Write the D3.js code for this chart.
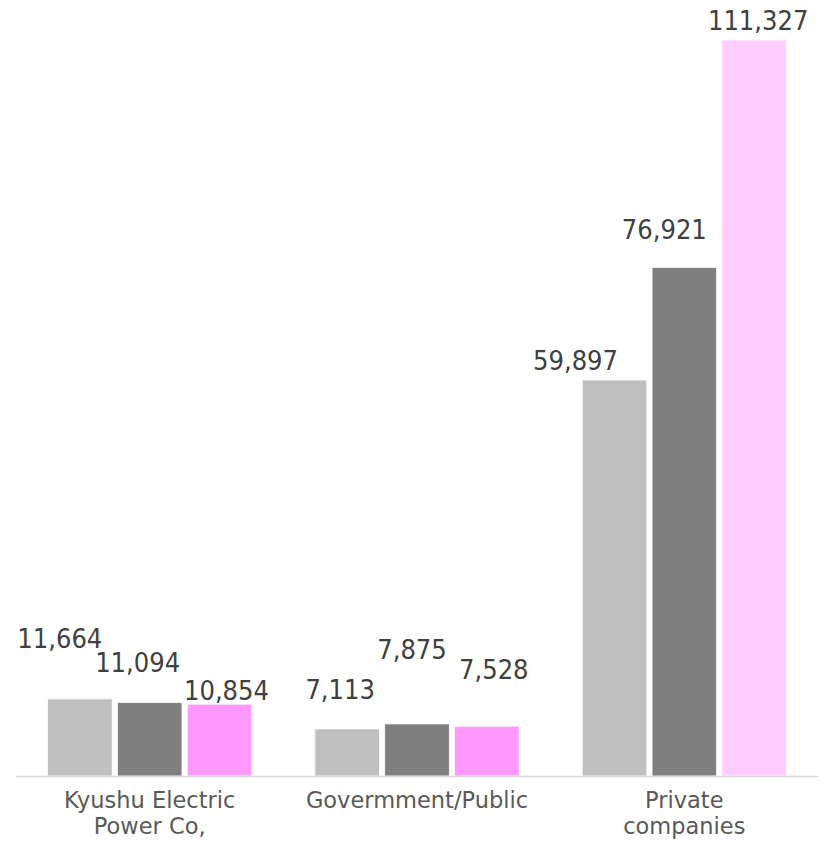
<!DOCTYPE html>
<html><head><meta charset="utf-8">
<script src="https://cdn.jsdelivr.net/npm/d3@7"></script>
<style>html,body{margin:0;padding:0;background:#fff;}svg{display:block;}</style>
</head><body>
<svg id="c" width="831" height="841"></svg>
<script>
const categories = [["Kyushu Electric","Power Co,"],["Govermment/Public"],["Private","companies"]];
const seriesNames = ["A","B","C"];
const seriesA = [11664, 7113, 59897];
const seriesB = [11094, 7875, 76921];
const seriesC = [10854, 7528, 111327];
const colors = [["#bfbfbf","#bfbfbf","#bfbfbf"],["#7f7f7f","#7f7f7f","#7f7f7f"],["#ff99ff","#ff99ff","#ffccff"]];
// manual label offsets (dx, dy from bar top-center), like moved Excel data labels
const labelDx = [[-20,-12,7],[-7,-5,7],[-39,-20,4]];
const labelDy = [[-51,-31,-4],[-30,-65,-47],[-10,-28,-10]];

const series = [seriesA, seriesB, seriesC];
const svg = d3.select("#c");
const plotLeft = 16, plotRight = 818, plotBase = 776, plotTop = 40;
const x0 = d3.scaleBand().domain(d3.range(categories.length)).range([plotLeft, plotRight]).paddingInner(0.236).paddingOuter(0.118);
const x1 = d3.scaleBand().domain(d3.range(series.length)).range([0, x0.bandwidth()]).paddingInner(0.075);
const y = d3.scaleLinear().domain([0, 111327]).range([plotBase, plotTop]);
const fmt = d3.format(",");

const g = svg.append("g");
series.forEach((vals, si) => {
  g.selectAll(".b"+si).data(vals).enter().append("rect")
    .attr("x", (d,i) => x0(i) + x1(si))
    .attr("y", d => y(d))
    .attr("width", x1.bandwidth())
    .attr("height", d => plotBase - y(d))
    .attr("fill", (d,i) => colors[si][i])
    .attr("stroke", "#ffffff").attr("stroke-width", 0.75);
});
svg.append("line").attr("x1", plotLeft).attr("x2", plotRight).attr("y1", plotBase+0.5).attr("y2", plotBase+0.5)
  .attr("stroke", "#d9d9d9").attr("stroke-width", 1.5);

series.forEach((vals, si) => {
  svg.selectAll(".l"+si).data(vals).enter().append("text")
    .attr("x", (d,i) => x0(i) + x1(si) + x1.bandwidth()/2 + labelDx[i][si])
    .attr("y", (d,i) => y(d) + labelDy[i][si])
    .attr("text-anchor", "middle")
    .attr("font-family", "'DejaVu Sans Condensed','DejaVu Sans',sans-serif")
    .attr("font-stretch", "condensed")
    .attr("font-size", 27)
    .attr("fill", "#404040")
    .text(d => fmt(d));
});

categories.forEach((lines, i) => {
  lines.forEach((ln, k) => {
    svg.append("text")
      .attr("text-anchor", "middle")
      .attr("font-family", "'DejaVu Sans',sans-serif")
      .attr("font-size", 22.5)
      .attr("fill", "#595959")
      .attr("x", x0(i) + x0.bandwidth()/2).attr("y", 808 + k*26).text(ln);
  });
});
</script>
</body></html>
